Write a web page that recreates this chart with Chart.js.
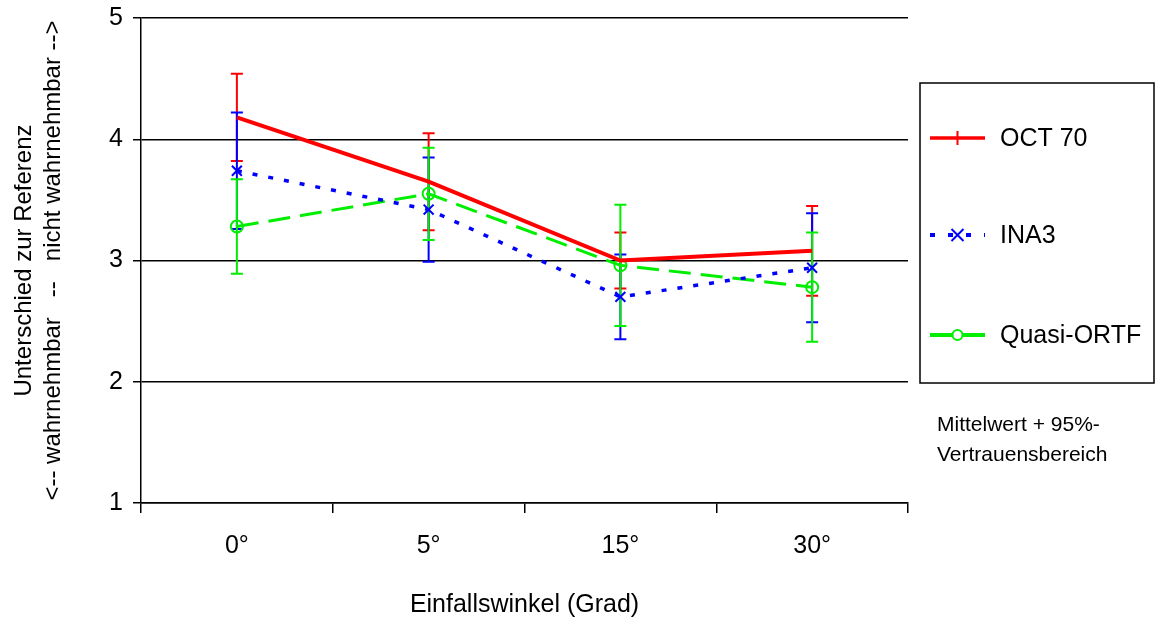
<!DOCTYPE html>
<html>
<head>
<meta charset="utf-8">
<script src="https://cdn.jsdelivr.net/npm/chart.js@4.4.1/dist/chart.umd.min.js"></script>
<style>
  html, body { margin: 0; padding: 0; background: #fff; }
  #wrap { width: 1155px; height: 623px; }
</style>
</head>
<body>
<div id="wrap"><canvas id="myChart" width="1155" height="623"></canvas></div>
<script>
(function() {
  const angles = ['0°', '5°', '15°', '30°'];
  const yTicks = [1, 2, 3, 4, 5];

  // mean values
  const oct70 = [4.18, 3.65, 3.00, 3.08];
  const ina3 = [3.74, 3.42, 2.70, 2.94];
  const quasiOrtf = [3.28, 3.55, 2.96, 2.78];

  // half width of 95% confidence interval
  const oct70Ci = [0.36, 0.40, 0.23, 0.37];
  const ina3Ci = [0.48, 0.43, 0.35, 0.45];
  const quasiOrtfCi = [0.39, 0.38, 0.50, 0.45];

  const seriesNames = ['OCT 70', 'INA3', 'Quasi-ORTF'];
  const colors = ['#ff0000', '#0000ff', '#00ee00'];
  const dashes = [[], [5, 11], [22, 10]];
  const widths = [4, 3.5, 3];

  const FONT = '"Liberation Sans", Arial, sans-serif';

  // draws vertical confidence bars for each series
  const errorBars = {
    id: 'errorBars',
    beforeDatasetsDraw(chart) {
      const ctx = chart.ctx;
      const xs = chart.scales.x, ys = chart.scales.y;
      const cis = [oct70Ci, ina3Ci, quasiOrtfCi];
      chart.data.datasets.forEach((ds, d) => {
        ctx.save();
        ctx.strokeStyle = colors[d];
        ctx.lineWidth = 2;
        ds.data.forEach((v, i) => {
          const x = xs.getPixelForValue(i);
          const top = ys.getPixelForValue(v + cis[d][i]);
          const bot = ys.getPixelForValue(v - cis[d][i]);
          ctx.beginPath();
          ctx.moveTo(x, top); ctx.lineTo(x, bot);
          ctx.moveTo(x - 6, top); ctx.lineTo(x + 6, top);
          ctx.moveTo(x - 6, bot); ctx.lineTo(x + 6, bot);
          ctx.stroke();
        });
        ctx.restore();
      });
    }
  };

  // boxed legend on the right, plus the note underneath
  const boxLegend = {
    id: 'boxLegend',
    afterDraw(chart) {
      const ctx = chart.ctx;
      const left = chart.chartArea.right + 12;
      const top = 83, bottom = 383;
      ctx.save();
      ctx.strokeStyle = '#000';
      ctx.lineWidth = 1.5;
      ctx.strokeRect(left, top, chart.width - left - 1, bottom - top);
      const rows = [138, 235, 335];
      rows.forEach((ry, d) => {
        const x0 = left + 10, x1 = left + 65, xm = (x0 + x1) / 2;
        ctx.strokeStyle = colors[d];
        ctx.lineWidth = d === 0 ? 3.5 : 4;
        ctx.setLineDash(d === 1 ? [5, 13] : []);
        ctx.beginPath();
        if (d === 2) {
          ctx.moveTo(x0, ry); ctx.lineTo(xm - 5, ry);
          ctx.moveTo(xm + 5, ry); ctx.lineTo(x1, ry);
        } else {
          ctx.moveTo(x0, ry); ctx.lineTo(x1, ry);
        }
        ctx.stroke();
        ctx.setLineDash([]);
        ctx.lineWidth = 2;
        ctx.beginPath();
        if (d === 0) {
          ctx.moveTo(xm, ry - 7); ctx.lineTo(xm, ry + 7);
          ctx.stroke();
        } else if (d === 1) {
          ctx.moveTo(xm - 6, ry - 6); ctx.lineTo(xm + 6, ry + 6);
          ctx.moveTo(xm + 6, ry - 6); ctx.lineTo(xm - 6, ry + 6);
          ctx.stroke();
        } else {
          ctx.fillStyle = '#fff';
          ctx.arc(xm, ry, 5, 0, Math.PI * 2);
          ctx.fill(); ctx.stroke();
        }
        ctx.fillStyle = '#000';
        ctx.font = '25px ' + FONT;
        ctx.textBaseline = 'middle';
        ctx.fillText(seriesNames[d], left + 80, ry + 1);
      });
      ctx.font = '21px ' + FONT;
      ctx.textBaseline = 'middle';
      ctx.fillText('Mittelwert + 95%-', left + 17, 425);
      ctx.fillText('Vertrauensbereich', left + 17, 455);
      ctx.restore();
    }
  };

  const ctx = document.getElementById('myChart');
  new Chart(ctx, {
    type: 'line',
    data: {
      labels: angles,
      datasets: [
        { label: seriesNames[0], data: oct70, borderColor: colors[0], borderWidth: widths[0],
          borderDash: dashes[0], pointStyle: 'line', pointRadius: 0, fill: false },
        { label: seriesNames[1], data: ina3, borderColor: colors[1], borderWidth: widths[1],
          borderDash: dashes[1], pointStyle: 'crossRot', pointRadius: 7, pointBorderWidth: 2,
          pointBorderColor: colors[1], fill: false },
        { label: seriesNames[2], data: quasiOrtf, borderColor: colors[2], borderWidth: widths[2],
          borderDash: dashes[2], pointStyle: 'circle', pointRadius: 6, pointBorderWidth: 2,
          pointBorderColor: colors[2], pointBackgroundColor: 'rgba(0,0,0,0)', fill: false }
      ]
    },
    options: {
      responsive: false,
      animation: false,
      layout: { padding: { top: 18, right: 247, left: 0, bottom: 0 } },
      scales: {
        x: {
          offset: true,
          grid: { offset: true, drawOnChartArea: false, color: '#000', lineWidth: 1.5, tickLength: 10 },
          border: { display: true, color: '#000', width: 1.5 },
          ticks: { color: '#000', font: { family: FONT, size: 25 }, padding: 18, maxRotation: 0 },
          title: { display: true, text: 'Einfallswinkel (Grad)', color: '#000',
            font: { family: FONT, size: 25 }, padding: { top: 4, bottom: 3 } },
          afterFit(scale) { scale.height = 120; }
        },
        y: {
          min: 1, max: 5,
          afterBuildTicks(scale) { scale.ticks = yTicks.map(v => ({ value: v })); },
          grid: { color: '#000', lineWidth: 1.5, tickLength: 8 },
          border: { display: true, color: '#000', width: 1.5 },
          ticks: { color: '#000', font: { family: FONT, size: 25 }, padding: 10 },
          title: { display: true, color: '#000', font: { family: FONT, size: 24 },
            text: ['Unterschied zur Referenz', '<-- wahrnehmbar   --   nicht wahrnehmbar -->'],
            padding: { top: 10, bottom: 4 } },
          afterFit(scale) {
            scale.width = 141;
            scale.paddingTop = 0;
            scale.paddingBottom = 0;
          }
        }
      },
      plugins: {
        legend: { display: false },
        tooltip: { enabled: false }
      }
    },
    plugins: [errorBars, boxLegend]
  });
})();
</script>
</body>
</html>
